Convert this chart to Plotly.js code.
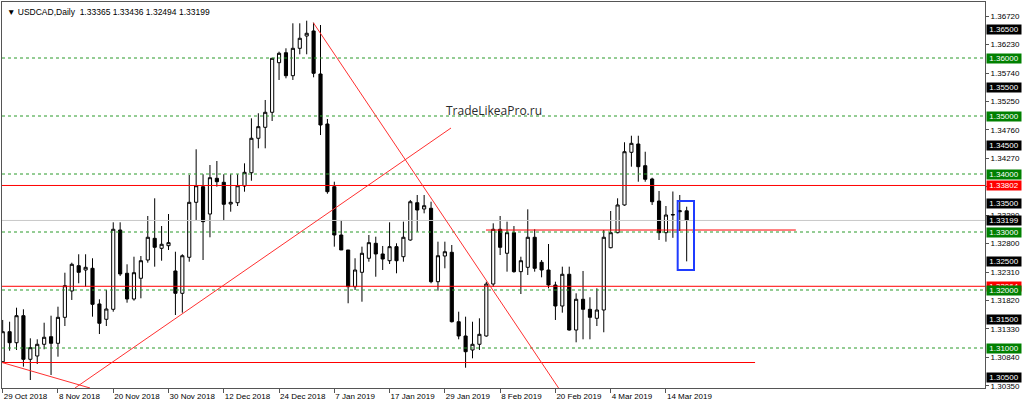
<!DOCTYPE html>
<html><head><meta charset="utf-8">
<script src="https://cdn.plot.ly/plotly-3.0.1.min.js"></script>
<style>html,body{margin:0;padding:0;background:#fff;overflow:hidden}#chart{width:1024px;height:407px}</style>
</head><body><div id="chart"></div>
<script>
const dates = ["2018-10-29","2018-10-30","2018-10-31","2018-11-01","2018-11-02","2018-11-05","2018-11-06","2018-11-07","2018-11-08","2018-11-09","2018-11-12","2018-11-13","2018-11-14","2018-11-15","2018-11-16","2018-11-19","2018-11-20","2018-11-21","2018-11-22","2018-11-23","2018-11-26","2018-11-27","2018-11-28","2018-11-29","2018-11-30","2018-12-03","2018-12-04","2018-12-05","2018-12-06","2018-12-07","2018-12-10","2018-12-11","2018-12-12","2018-12-13","2018-12-14","2018-12-17","2018-12-18","2018-12-19","2018-12-20","2018-12-21","2018-12-24","2018-12-26","2018-12-27","2018-12-28","2018-12-31","2019-01-02","2019-01-03","2019-01-04","2019-01-07","2019-01-08","2019-01-09","2019-01-10","2019-01-11","2019-01-14","2019-01-15","2019-01-16","2019-01-17","2019-01-18","2019-01-21","2019-01-22","2019-01-23","2019-01-24","2019-01-25","2019-01-28","2019-01-29","2019-01-30","2019-01-31","2019-02-01","2019-02-04","2019-02-05","2019-02-06","2019-02-07","2019-02-08","2019-02-11","2019-02-12","2019-02-13","2019-02-14","2019-02-15","2019-02-18","2019-02-19","2019-02-20","2019-02-21","2019-02-22","2019-02-25","2019-02-26","2019-02-27","2019-02-28","2019-03-01","2019-03-04","2019-03-05","2019-03-06","2019-03-07","2019-03-08","2019-03-11","2019-03-12","2019-03-13","2019-03-14","2019-03-15","2019-03-18","2019-03-19"];

const openP = [1.30764,1.31281,1.31091,1.31557,1.30805,1.30862,1.31064,1.31195,1.31081,1.31529,
1.31983,1.32419,1.32345,1.32374,1.31759,1.31495,1.31667,1.33034,1.32288,1.31845,
1.32202,1.32517,1.32891,1.32719,1.32764,1.32328,1.31943,1.32564,1.33512,1.33781,
1.33310,1.33926,1.33857,1.33483,1.33505,1.33793,1.34022,1.34616,1.34805,1.35064,
1.35919,1.36091,1.35695,1.36167,1.36379,1.36466,1.35724,1.34862,1.33781,1.32948,
1.32690,1.32057,1.32305,1.32547,1.32805,1.32621,1.32505,1.32747,1.32574,1.32862,
1.33505,1.33397,1.33409,1.32143,1.32586,1.32650,1.31453,1.31207,1.30966,1.31064,
1.31207,1.32103,1.33047,1.32633,1.32988,1.32316,1.32391,1.32909,1.32478,1.32345,
1.32086,1.31724,1.32271,1.31310,1.31840,1.31667,1.31512,1.31655,1.32729,1.32988,
1.33466,1.34374,1.34517,1.34143,1.33914,1.33534,1.32988,1.33293,1.33350,1.33365];
const highP = [1.31483,1.31453,1.31695,1.31667,1.31167,1.31150,1.31436,1.31557,1.31712,1.32298,
1.32471,1.32616,1.32616,1.32547,1.31840,1.32000,1.33167,1.33167,1.32443,1.32574,
1.32586,1.33276,1.33581,1.33103,1.33310,1.32660,1.32616,1.33983,1.34426,1.33995,
1.34155,1.34224,1.33995,1.33995,1.33995,1.34184,1.34960,1.35047,1.35276,1.36000,
1.36109,1.36167,1.36598,1.36598,1.36643,1.36609,1.36569,1.34948,1.33867,1.33207,
1.32690,1.32547,1.32747,1.32948,1.32919,1.32759,1.33167,1.32805,1.33178,1.33552,
1.33638,1.33638,1.33522,1.32833,1.32833,1.32776,1.31626,1.31540,1.31453,1.31512,
1.32143,1.33150,1.33276,1.33178,1.33103,1.32574,1.33391,1.33047,1.32517,1.32793,
1.32143,1.32402,1.32402,1.31943,1.32328,1.31874,1.32029,1.33034,1.33362,1.33581,
1.34547,1.34660,1.34660,1.34384,1.33936,1.33707,1.33448,1.33698,1.33638,1.33436];
const lowP = [1.30747,1.30953,1.30966,1.30678,1.30448,1.30724,1.30978,1.30534,1.30850,1.31379,
1.31828,1.32116,1.32057,1.31540,1.31241,1.31379,1.31626,1.32241,1.31781,1.31816,
1.31857,1.32471,1.32402,1.32505,1.32690,1.31569,1.31609,1.32488,1.33207,1.32517,
1.32909,1.33781,1.33190,1.33350,1.33448,1.33695,1.33884,1.34443,1.34443,1.34914,
1.35621,1.35650,1.35621,1.36064,1.36064,1.35667,1.34672,1.33660,1.32747,1.32690,
1.31771,1.32000,1.31798,1.32488,1.32229,1.32345,1.32448,1.32288,1.32488,1.32850,
1.33005,1.33322,1.32116,1.31988,1.32374,1.31440,1.31150,1.30660,1.30822,1.30966,
1.31195,1.32057,1.32603,1.32316,1.32298,1.31931,1.32259,1.32316,1.32219,1.32029,
1.31483,1.31609,1.31300,1.31098,1.31150,1.31150,1.31379,1.31271,1.32719,1.32978,
1.33453,1.34126,1.33867,1.33867,1.33466,1.32862,1.32833,1.32900,1.33017,1.32494];
const closeP = [1.31281,1.31091,1.31557,1.30805,1.31005,1.31064,1.31185,1.31081,1.31529,1.32074,
1.32443,1.32305,1.32391,1.31753,1.31426,1.31672,1.33047,1.32276,1.31845,1.32298,
1.32505,1.32909,1.32736,1.32788,1.32816,1.31943,1.32591,1.33512,1.33798,1.33178,
1.33936,1.33867,1.33478,1.33512,1.33798,1.34029,1.34616,1.34816,1.35064,1.35995,
1.36081,1.35695,1.36167,1.36340,1.36426,1.35736,1.34845,1.33695,1.32948,1.32690,
1.32057,1.32345,1.32633,1.32816,1.32621,1.32534,1.32747,1.32505,1.32909,1.33522,
1.33379,1.33453,1.32143,1.32591,1.32660,1.31453,1.31207,1.30936,1.31064,1.31236,
1.32103,1.33047,1.32736,1.32988,1.32316,1.32505,1.32909,1.32374,1.32345,1.32086,
1.31724,1.32271,1.31310,1.31840,1.31667,1.31529,1.31655,1.32909,1.32988,1.33466,
1.34384,1.34529,1.34126,1.33909,1.33522,1.32988,1.33293,1.33300,1.33365,1.33199];

const tickDates = ["2018-10-29","2018-11-08","2018-11-20","2018-11-30","2018-12-12","2018-12-24","2019-01-07","2019-01-17","2019-01-29","2019-02-08","2019-02-20","2019-03-04","2019-03-14"];
const tickLabels = ["29 Oct 2018","8 Nov 2018","20 Nov 2018","30 Nov 2018","12 Dec 2018","24 Dec 2018","7 Jan 2019","17 Jan 2019","29 Jan 2019","8 Feb 2019","20 Feb 2019","4 Mar 2019","14 Mar 2019"];

const priceTicks = [1.30350,1.30840,1.31330,1.31820,1.32310,1.32800,1.33290,1.33780,1.34270,1.34760,1.35250,1.35740,1.36230,1.36720];
const greenLevels = [1.31,1.32,1.33,1.34,1.35,1.36];
const blackLevels = [1.365,1.355,1.345,1.335,1.325,1.315,1.305];
const redLevels = [1.33802,1.32064];
const bidPrice = 1.33199;
const header = {symbol:"USDCAD,Daily", ohlc:[1.33365,1.33436,1.32494,1.33199]};

// trend lines: [x0 (bar index), y0, x1, y1]
const trendLines = [
  [10.46, 1.30310, 64.89, 1.34793],
  [44.96, 1.36609, 80.46, 1.30310],
  [-0.39, 1.30760, 12.64, 1.30310]
];
// partial horizontal red lines: [x0, x1, price]
const redSegments = [[-1, 108.9, 1.30750],[69.95, 114.8, 1.33034]];
const blueBox = [97.7, 1.32345, 100.06, 1.33534];
const watermark = "TradeLikeaPro.ru";

const FONT = "Liberation Sans, Arial, sans-serif";
const shapes = [];
greenLevels.forEach(v => shapes.push({type:'line', xref:'paper', x0:0, x1:1, yref:'y', y0:v, y1:v, line:{color:'#2a9a2a', width:1, dash:'3px,3px'}, layer:'above'}));
shapes.push({type:'line', xref:'paper', x0:0, x1:1, yref:'y', y0:bidPrice, y1:bidPrice, line:{color:'#c8c8c8', width:1}, layer:'above'});
redLevels.forEach(v => shapes.push({type:'line', xref:'paper', x0:0, x1:1, yref:'y', y0:v, y1:v, line:{color:'#ff0000', width:1}, layer:'above'}));
redSegments.forEach(s => shapes.push({type:'line', xref:'x', yref:'y', x0:s[0], x1:s[1], y0:s[2], y1:s[2], line:{color:'#ff0000', width:1}, layer:'above'}));
trendLines.forEach(t => shapes.push({type:'line', xref:'x', yref:'y', x0:t[0], y0:t[1], x1:t[2], y1:t[3], line:{color:'#ff3030', width:1}, layer:'above'}));
shapes.push({type:'rect', xref:'x', yref:'y', x0:blueBox[0], y0:blueBox[1], x1:blueBox[2], y1:blueBox[3], line:{color:'#1f3cff', width:2}, fillcolor:'rgba(0,0,0,0)', layer:'above'});

const annotations = [];
function boxLabel(v, bg){
  annotations.push({xref:'paper', x:1, xanchor:'left', xshift:1, yref:'y', y:v, yanchor:'middle', text:v.toFixed(5), showarrow:false,
    bgcolor:bg, font:{family:FONT, size:8, color:'#fff'}, width:34, height:9, borderpad:0});
}
redLevels.forEach(v => boxLabel(v, '#ff0000'));
greenLevels.forEach(v => boxLabel(v, '#008000'));
blackLevels.forEach(v => boxLabel(v, '#000000'));
boxLabel(bidPrice, '#000000');
annotations.push({xref:'paper', yref:'paper', x:0, y:1, xanchor:'left', yanchor:'top', xshift:3, yshift:-3, showarrow:false,
  text:'▼ ' + header.symbol + '  ' + header.ohlc.map(v=>v.toFixed(5)).join(' '), font:{family:FONT, size:8.5, color:'#000'}});
annotations.push({xref:'paper', yref:'paper', x:0.5002, y:0.7202, xanchor:'center', yanchor:'middle', showarrow:false,
  text:watermark, font:{family:'Open Sans, sans-serif', size:12, color:'#2b2b2b'}});

const trace = {type:'candlestick', x:dates, open:openP, high:highP, low:lowP, close:closeP,
  increasing:{line:{color:'#000', width:1}, fillcolor:'#fff'},
  decreasing:{line:{color:'#000', width:1}, fillcolor:'#000'},
  whiskerwidth:0, hoverinfo:'skip', showlegend:false};

const layout = {
  width:1024, height:407, margin:{l:2, r:39, t:2, b:19},
  paper_bgcolor:'#fff', plot_bgcolor:'#fff', boxgap:0.35, showlegend:false,
  font:{family:FONT, size:8, color:'#000'},
  xaxis:{type:'category', range:[-0.101, 142.18], showgrid:false, zeroline:false, showline:true, mirror:true, linecolor:'#555', linewidth:1,
    ticks:'outside', ticklen:4, tickcolor:'#555', tickvals:tickDates, ticktext:tickLabels, ticklabelposition:'outside right',
    tickfont:{family:FONT, size:8, color:'#000'}, rangeslider:{visible:false}, fixedrange:true},
  yaxis:{side:'right', range:[1.303103, 1.369655], showgrid:false, zeroline:false, showline:true, mirror:true, linecolor:'#555', linewidth:1,
    ticks:'outside', ticklen:3, tickcolor:'#555', tickvals:priceTicks, ticktext:priceTicks.map(v=>v.toFixed(5)),
    tickfont:{family:FONT, size:8, color:'#000'}, fixedrange:true},
  shapes:shapes, annotations:annotations
};
Plotly.newPlot('chart', [trace], layout, {displayModeBar:false, staticPlot:true});
</script></body></html>
